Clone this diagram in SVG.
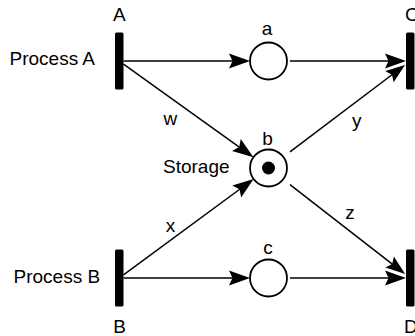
<svg xmlns="http://www.w3.org/2000/svg" width="415" height="336" viewBox="0 0 415 336">
  <style>
    text { font-family: "Liberation Sans", Arial, sans-serif; font-size: 19px; fill: #000; }
    .mid { text-anchor: middle; }
    .bar { fill: #000; }
    .place { fill: #fff; stroke: #000; stroke-width: 1.8; }
    .token { fill: #000; }
    .arc { fill: none; stroke: #000; stroke-width: 1.5; }
  </style>
  <defs>
    <!-- notched arrowhead; line ends 8px before the tip -->
    <marker id="arrow" markerUnits="userSpaceOnUse" markerWidth="22" markerHeight="16" refX="13" refY="7.5" orient="auto" overflow="visible">
      <path d="M0,0 L21,7.5 L0,15 L3.5,7.5 Z" fill="#000"/>
    </marker>
    <!-- same arrowhead with a thin white rim on its sides -->
    <marker id="arrow-rim" markerUnits="userSpaceOnUse" markerWidth="22" markerHeight="16" refX="13" refY="7.5" orient="auto" overflow="visible">
      <path d="M0,0 L21,7.5 L0,15 L3.5,7.5 Z" fill="#000"/>
      <path d="M0,0 L21,7.5 L0,15" fill="none" stroke="#fff" stroke-width="0.8" stroke-linejoin="round"/>
    </marker>
  </defs>

  <!-- arcs -->
  <g id="connectors">
    <path class="arc" d="M123.5,61 L242,61" marker-end="url(#arrow)"/>
    <path class="arc" d="M123.5,64.05 L246.96,152.56" marker-end="url(#arrow)"/>
    <path class="arc" d="M123.5,274.87 L247.17,183.73" marker-end="url(#arrow)"/>
    <path class="arc" d="M123.5,278 L242,278" marker-end="url(#arrow)"/>
    <path class="arc" d="M290,61 L398,61" marker-end="url(#arrow)"/>
    <path class="arc" d="M290,278 L398,278" marker-end="url(#arrow)"/>
    <path class="arc" d="M290,151.8 L399.6,69" marker-end="url(#arrow-rim)"/>
    <path class="arc" d="M290,184.7 L399.7,269.8" marker-end="url(#arrow-rim)"/>
    <text class="mid" x="170.3" y="125">w</text>
    <text class="mid" x="170.5" y="231.7">x</text>
    <text class="mid" x="356.7" y="127">y</text>
    <text class="mid" x="350" y="219.3">z</text>
  </g>

  <!-- transitions -->
  <g id="transition-A">
    <rect class="bar" x="115" y="32.5" width="8.5" height="57" rx="1.5"/>
    <text class="mid" x="119.3" y="20.7">A</text>
    <text x="9.5" y="65">Process A</text>
  </g>
  <g id="transition-B">
    <rect class="bar" x="115" y="249.5" width="8.5" height="57" rx="1.5"/>
    <text class="mid" x="119.5" y="333">B</text>
    <text x="13.5" y="282.7">Process B</text>
  </g>
  <g id="transition-C">
    <rect class="bar" x="406" y="32.5" width="8.5" height="57" rx="1.5"/>
    <text x="405" y="21">C</text>
  </g>
  <g id="transition-D">
    <rect class="bar" x="406" y="249.5" width="8.5" height="57" rx="1.5"/>
    <text x="404" y="333">D</text>
  </g>

  <!-- places -->
  <g id="place-a">
    <circle class="place" cx="268.5" cy="61" r="18.5"/>
    <text class="mid" x="267" y="35">a</text>
  </g>
  <g id="place-b">
    <circle class="place" cx="268.5" cy="168" r="18.5"/>
    <circle class="token" cx="268.5" cy="168" r="6.5"/>
    <text class="mid" x="267.5" y="145">b</text>
    <text x="163" y="173">Storage</text>
  </g>
  <g id="place-c">
    <circle class="place" cx="268.5" cy="278" r="18.5"/>
    <text class="mid" x="268" y="254.3">c</text>
  </g>
</svg>
